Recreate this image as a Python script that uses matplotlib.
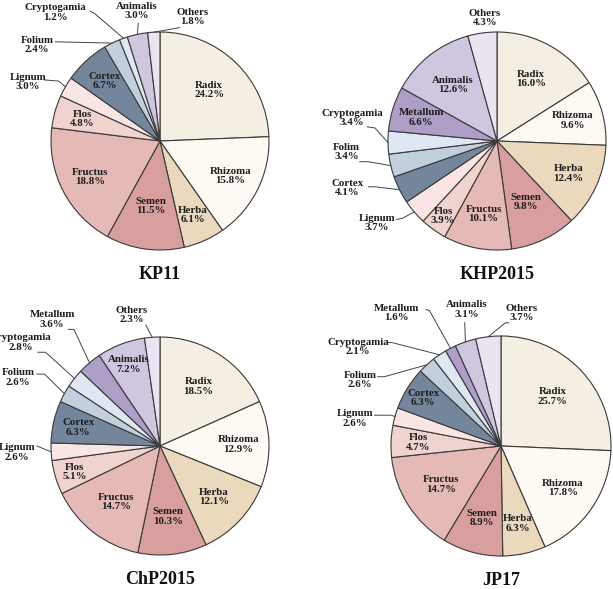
import numpy as np
import matplotlib
matplotlib.use("Agg")
import matplotlib.pyplot as plt

plt.rcParams['font.family'] = ['Liberation Serif', 'DejaVu Serif']
plt.rcParams['font.weight'] = 'bold'

# data
titles = ["KP11", "KHP2015", "ChP2015", "JP17"]

kp11_names = ["Radix", "Rhizoma", "Herba", "Semen", "Fructus", "Flos", "Lignum",
              "Cortex", "Folium", "Cryptogamia", "Animalis", "Others"]
kp11_vals = [24.2, 15.8, 6.1, 11.5, 18.8, 4.8, 3.0, 6.7, 2.4, 1.2, 3.0, 1.8]

khp_names = ["Radix", "Rhizoma", "Herba", "Semen", "Fructus", "Flos", "Lignum",
             "Cortex", "Folim", "Cryptogamia", "Metallum", "Animalis", "Others"]
khp_vals = [16.0, 9.6, 12.4, 9.8, 10.1, 3.9, 3.7, 4.1, 3.4, 3.4, 6.6, 12.6, 4.3]

chp_names = ["Radix", "Rhizoma", "Herba", "Semen", "Fructus", "Flos", "Lignum",
             "Cortex", "Folium", "Cryptogamia", "Metallum", "Animalis", "Others"]
chp_vals = [18.5, 12.9, 12.1, 10.3, 14.7, 5.1, 2.6, 6.3, 2.6, 2.8, 3.6, 7.2, 2.3]

jp_names = ["Radix", "Rhizoma", "Herba", "Semen", "Fructus", "Flos", "Lignum",
            "Cortex", "Folium", "Cryptogamia", "Metallum", "Animalis", "Others"]
jp_vals = [25.7, 17.8, 6.3, 8.9, 14.7, 4.7, 2.6, 6.3, 2.6, 2.1, 1.6, 3.1, 3.7]

colors = {
    "Radix": "#f5eee2", "Rhizoma": "#fdfaf3", "Herba": "#ead9bc",
    "Semen": "#d99f9f", "Fructus": "#e5b9b6", "Flos": "#f0d3cf",
    "Lignum": "#f9e6e4", "Cortex": "#74869b", "Folium": "#c2cfdc",
    "Folim": "#c2cfdc", "Cryptogamia": "#dfe8f2", "Metallum": "#ae9ec8",
    "Animalis": "#cfc6e0", "Others": "#e9e4f0",
}

# layout: pie centre / radius in pixels, label tweaks in radius units
W, H = 613, 589
L = 1.55
pies = [
    dict(names=kp11_names, vals=kp11_vals, c=(160, 141), r=109,
         inr={"Herba": 0.74, "Flos": 0.74, "Cortex": 0.75, "Rhizoma": 0.72, "Fructus": 0.72, "Semen": 0.6},
         out={"Cryptogamia": ((-0.96, 1.18), [(-0.64, 1.19), (-0.60, 1.17)]),
              "Animalis": ((-0.21, 1.19), [(-0.20, 1.08)]),
              "Others": ((0.30, 1.14), [(0.18, 1.04)]),
              "Folium": ((-1.13, 0.88), [(-0.96, 0.91)]),
              "Lignum": ((-1.21, 0.54), [(-1.06, 0.56), (-0.93, 0.55)])}),
    dict(names=khp_names, vals=khp_vals, c=(497, 141), r=109,
         inr={"Flos": 0.85, "Fructus": 0.68, "Semen": 0.62, "Rhizoma": 0.72, "Herba": 0.72, "Metallum": 0.73},
         out={"Others": ((-0.11, 1.13), None),
              "Cryptogamia": ((-1.33, 0.21), [(-1.19, 0.13), (-1.12, 0.12)]),
              "Folim": ((-1.38, -0.10), [(-1.26, -0.19), (-1.18, -0.19)]),
              "Cortex": ((-1.37, -0.43), [(-1.18, -0.42), (-1.12, -0.42)]),
              "Lignum": ((-1.10, -0.75), [(-0.92, -0.72), (-0.87, -0.71)])}),
    dict(names=chp_names, vals=chp_vals, c=(160, 446), r=109,
         inr={"Flos": 0.82, "Cortex": 0.77, "Animalis": 0.8, "Herba": 0.68, "Rhizoma": 0.72},
         out={"Others": ((-0.26, 1.20), [(-0.13, 1.11)]),
              "Metallum": ((-0.99, 1.16), [(-0.84, 1.07), (-0.79, 1.07)]),
              "Cryptogamia": ((-1.28, 0.95), [(-1.12, 0.86), (-1.05, 0.86)]),
              "Folium": ((-1.30, 0.63), [(-1.13, 0.66), (-1.06, 0.66)]),
              "Lignum": ((-1.31, -0.06), [(-1.13, 0.0)])}),
    dict(names=jp_names, vals=jp_vals, c=(501, 446), r=110,
         inr={"Flos": 0.75, "Cortex": 0.83, "Herba": 0.72, "Semen": 0.68, "Rhizoma": 0.68},
         out={"Others": ((0.19, 1.21), [(0.07, 1.12), (0.04, 1.12)]),
              "Animalis": ((-0.31, 1.24), [(-0.33, 1.12)]),
              "Metallum": ((-0.95, 1.21), [(-0.68, 1.24), (-0.65, 1.23)]),
              "Cryptogamia": ((-1.30, 0.90), [(-1.03, 0.94), (-0.99, 0.94)]),
              "Folium": ((-1.28, 0.60), [(-1.12, 0.63), (-1.06, 0.63)]),
              "Lignum": ((-1.33, 0.25), [(-1.15, 0.28), (-1.0, 0.28)])}),
]

fig = plt.figure(figsize=(W / 100, H / 100), dpi=100)
txt = "#1c1c1c"
edge = "#3a3a3a"

for title, p in zip(titles, pies):
    cx, cy = p["c"]
    r = p["r"]
    ax = fig.add_axes([(cx - L * r) / W, (H - cy - L * r) / H, 2 * L * r / W, 2 * L * r / H])
    vals = np.array(p["vals"])
    ax.pie(vals, colors=[colors[n] for n in p["names"]], startangle=90, counterclock=False,
           wedgeprops=dict(edgecolor=edge, linewidth=0.8))
    ax.set_xlim(-L, L)
    ax.set_ylim(-L, L)
    ax.set_aspect('equal')
    ax.axis('off')

    cum = np.cumsum(vals) - vals / 2
    mids = np.deg2rad(90 - 360 * cum / vals.sum())
    for name, v, a in zip(p["names"], vals, mids):
        label = "%s\n%.1f%%" % (name, v)
        if name in p["out"]:
            (tx, ty), anc = p["out"][name]
            ax.text(tx, ty, label, ha='center', va='center', fontsize=7.8,
                    color=txt, linespacing=1.05, clip_on=False)
            if anc is not None:
                pts = anc + [(np.cos(a), np.sin(a))]
                xs, ys = zip(*pts)
                ax.plot(xs, ys, color="#444444", lw=0.7, clip_on=False)
        else:
            rr = p["inr"].get(name, 0.65)
            ax.text(rr * np.cos(a), rr * np.sin(a), label, ha='center', va='center',
                    fontsize=7.8, color=txt, linespacing=1.05)
    ax.text(0, -1.225, title, ha='center', va='center',
            fontsize=13, color="#111111", clip_on=False)

fig.savefig("out.png", dpi=100)
